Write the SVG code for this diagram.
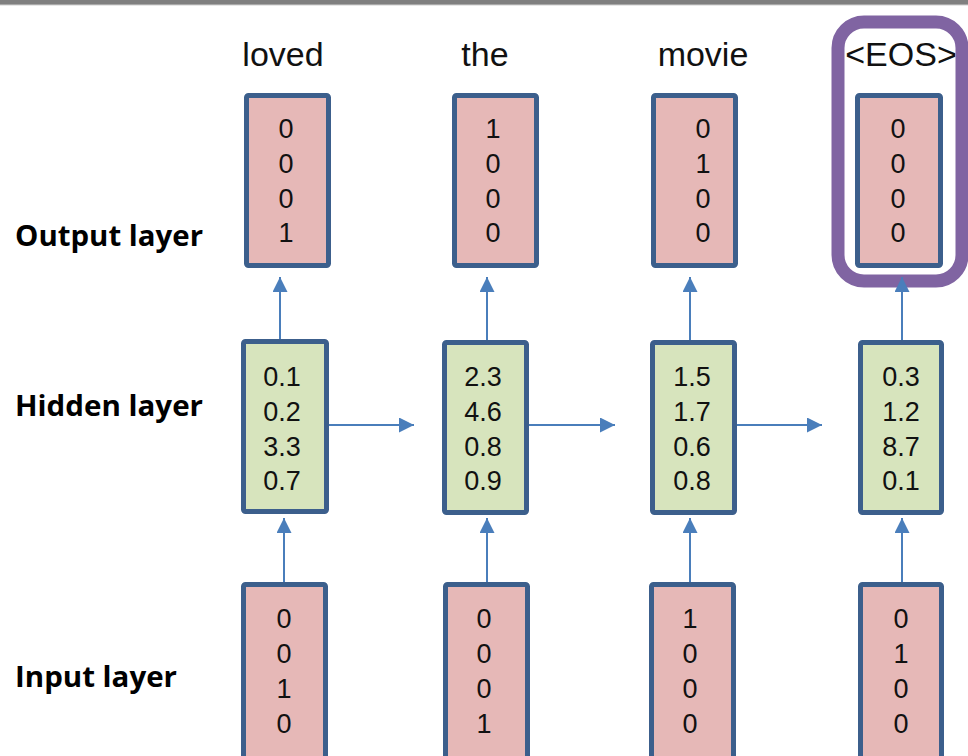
<svg xmlns="http://www.w3.org/2000/svg" width="968" height="756" viewBox="0 0 968 756">
<style>
.box{stroke:#3c5f8c;stroke-width:5;}
.out{fill:#e6b8b7;}
.hid{fill:#d7e4bd;}
.num{font-family:"Liberation Sans",Arial,sans-serif;font-size:27px;fill:#111;text-anchor:middle;}
.word{font-family:"Liberation Sans",Arial,sans-serif;font-size:34px;fill:#111;text-anchor:middle;}
.lab{font-family:"Open Sans","Liberation Sans",sans-serif;font-weight:bold;font-size:29px;fill:#000;}
.conn line{stroke:#4a7ebb;stroke-width:2;}
</style>
<defs>
<marker id="ah" viewBox="0 0 15 15" refX="15" refY="7.5" markerWidth="15" markerHeight="15" markerUnits="userSpaceOnUse" orient="auto">
<path d="M0,0 L15,7.5 L0,15 Z" fill="#4a7ebb"/>
</marker>
</defs>
<rect x="0" y="0" width="968" height="5" fill="#808080"/>
<rect x="0" y="4.5" width="968" height="1" fill="#d0d0d0"/>

<g id="labels">
<text class="lab" x="15" y="246" textLength="188" lengthAdjust="spacingAndGlyphs">Output layer</text>
<text class="lab" x="15" y="416" textLength="188" lengthAdjust="spacingAndGlyphs">Hidden layer</text>
<text class="lab" x="15" y="687" textLength="162" lengthAdjust="spacingAndGlyphs">Input layer</text>
</g>

<g id="words">
<text class="word" x="283" y="66">loved</text>
<text class="word" x="485" y="66">the</text>
<text class="word" x="703" y="66">movie</text>
<text class="word" x="901" y="66">&lt;EOS&gt;</text>
</g>

<g id="eos-highlight">
<rect x="838" y="22" width="124" height="259" rx="26" fill="none" stroke="#8064a2" stroke-width="13"/>
</g>

<g class="conn" id="connectors">
<line x1="280" y1="339" x2="280" y2="277" marker-end="url(#ah)"/>
<line x1="487" y1="340" x2="487" y2="277" marker-end="url(#ah)"/>
<line x1="690" y1="340" x2="690" y2="277" marker-end="url(#ah)"/>
<line x1="902" y1="340" x2="902" y2="277" marker-end="url(#ah)"/>
<line x1="284" y1="582" x2="284" y2="518" marker-end="url(#ah)"/>
<line x1="487" y1="582" x2="487" y2="518" marker-end="url(#ah)"/>
<line x1="690" y1="582" x2="690" y2="518" marker-end="url(#ah)"/>
<line x1="902" y1="582" x2="902" y2="518" marker-end="url(#ah)"/>
<line x1="329" y1="425" x2="414" y2="425" marker-end="url(#ah)"/>
<line x1="529" y1="425" x2="615" y2="425" marker-end="url(#ah)"/>
<line x1="737" y1="425" x2="822" y2="425" marker-end="url(#ah)"/>
</g>

<g id="out-loved">
<rect class="box out" x="246.5" y="95.5" width="82" height="170" rx="2"/>
<text class="num" x="286" y="138">0</text><text class="num" x="286" y="173">0</text><text class="num" x="286" y="208">0</text><text class="num" x="286" y="242">1</text>
</g>
<g id="out-the">
<rect class="box out" x="454.5" y="95.5" width="82" height="170" rx="2"/>
<text class="num" x="493" y="138">1</text><text class="num" x="493" y="173">0</text><text class="num" x="493" y="208">0</text><text class="num" x="493" y="242">0</text>
</g>
<g id="out-movie">
<rect class="box out" x="653.5" y="95.5" width="82" height="170" rx="2"/>
<text class="num" x="703" y="138">0</text><text class="num" x="703" y="173">1</text><text class="num" x="703" y="208">0</text><text class="num" x="703" y="242">0</text>
</g>
<g id="out-eos">
<rect class="box out" x="857.5" y="95.5" width="83" height="170" rx="2"/>
<text class="num" x="898" y="138">0</text><text class="num" x="898" y="173">0</text><text class="num" x="898" y="208">0</text><text class="num" x="898" y="242">0</text>
</g>

<g id="hid-loved">
<rect class="box hid" x="243.5" y="341.5" width="83" height="170" rx="2"/>
<text class="num" x="282" y="386">0.1</text><text class="num" x="282" y="421">0.2</text><text class="num" x="282" y="456">3.3</text><text class="num" x="282" y="490">0.7</text>
</g>
<g id="hid-the">
<rect class="box hid" x="444.5" y="342.5" width="82" height="170" rx="2"/>
<text class="num" x="483" y="386">2.3</text><text class="num" x="483" y="421">4.6</text><text class="num" x="483" y="456">0.8</text><text class="num" x="483" y="490">0.9</text>
</g>
<g id="hid-movie">
<rect class="box hid" x="652.5" y="342.5" width="82" height="170" rx="2"/>
<text class="num" x="692" y="386">1.5</text><text class="num" x="692" y="421">1.7</text><text class="num" x="692" y="456">0.6</text><text class="num" x="692" y="490">0.8</text>
</g>
<g id="hid-eos">
<rect class="box hid" x="860.5" y="342.5" width="81" height="170" rx="2"/>
<text class="num" x="901" y="386">0.3</text><text class="num" x="901" y="421">1.2</text><text class="num" x="901" y="456">8.7</text><text class="num" x="901" y="490">0.1</text>
</g>

<g id="in-loved">
<rect class="box out" x="243.5" y="584.5" width="82" height="190" rx="2"/>
<text class="num" x="284" y="628">0</text><text class="num" x="284" y="663">0</text><text class="num" x="284" y="698">1</text><text class="num" x="284" y="733">0</text>
</g>
<g id="in-the">
<rect class="box out" x="445.5" y="584.5" width="82" height="190" rx="2"/>
<text class="num" x="484" y="628">0</text><text class="num" x="484" y="663">0</text><text class="num" x="484" y="698">0</text><text class="num" x="484" y="733">1</text>
</g>
<g id="in-movie">
<rect class="box out" x="651.5" y="584.5" width="82" height="190" rx="2"/>
<text class="num" x="690" y="628">1</text><text class="num" x="690" y="663">0</text><text class="num" x="690" y="698">0</text><text class="num" x="690" y="733">0</text>
</g>
<g id="in-eos">
<rect class="box out" x="860.5" y="584.5" width="81" height="190" rx="2"/>
<text class="num" x="901" y="628">0</text><text class="num" x="901" y="663">1</text><text class="num" x="901" y="698">0</text><text class="num" x="901" y="733">0</text>
</g>
</svg>
